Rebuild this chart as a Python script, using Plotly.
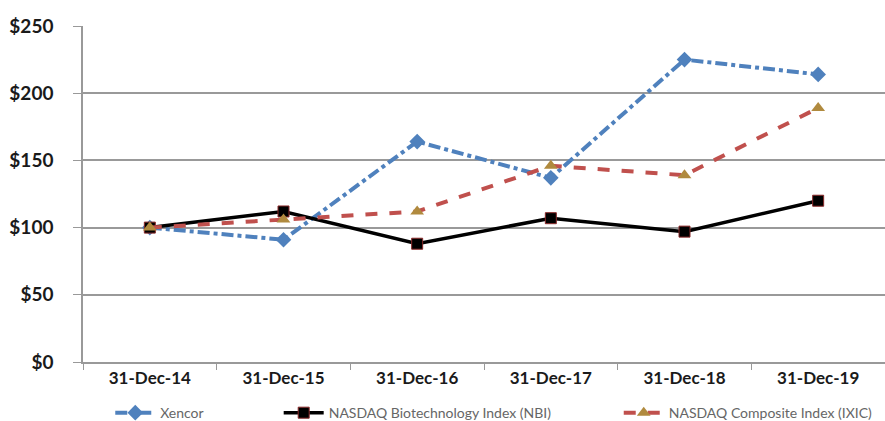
import plotly.graph_objects as go

dates = ["31-Dec-14", "31-Dec-15", "31-Dec-16", "31-Dec-17", "31-Dec-18", "31-Dec-19"]
xencor = [100, 91, 164, 137, 225, 214]
nbi = [100, 112, 88, 107, 97, 120]
ixic = [100, 106, 112, 146, 139, 189]
y_ticks = [0, 50, 100, 150, 200, 250]
y_labels = ["$0", "$50", "$100", "$150", "$200", "$250"]

FONT = "Lato, Carlito, Calibri, Arial"

fig = go.Figure()
fig.add_trace(go.Scatter(
    x=dates, y=xencor, name="Xencor", mode="lines+markers", legend="legend",
    showlegend=True,
    line=dict(color="#4F81BD", width=4, dash="dashdot"),
    marker=dict(symbol="diamond", size=12, color="#4F81BD"),
))
fig.add_trace(go.Scatter(
    x=dates, y=nbi, name="NASDAQ Biotechnology Index (NBI)", mode="lines+markers",
    legend="legend2", showlegend=True,
    line=dict(color="#000000", width=3.5),
    marker=dict(symbol="square", size=11, color="#000000",
                line=dict(color="#8B2A2A", width=1)),
))
fig.add_trace(go.Scatter(
    x=dates, y=ixic, name="NASDAQ Composite Index (IXIC)", mode="lines+markers",
    legend="legend3", showlegend=True,
    line=dict(color="#C0504D", width=4, dash="dash"),
    marker=dict(symbol="triangle-up", size=12, color="#B08A3E"),
))

legend_style = dict(
    orientation="h", yanchor="middle", y=-0.152, xanchor="left",
    font=dict(size=14, color="#666666", family=FONT),
    itemwidth=40, bgcolor="rgba(0,0,0,0)",
)

fig.update_layout(
    width=885, height=421,
    showlegend=True,
    margin=dict(l=83, r=0, t=26, b=59, autoexpand=False),
    paper_bgcolor="white", plot_bgcolor="white",
    font=dict(family=FONT, color="#222222"),
    legend=dict(legend_style, x=0.034),
    legend2=dict(legend_style, x=0.244),
    legend3=dict(legend_style, x=0.668),
    xaxis=dict(
        type="category", range=[-0.5, 5.5], tickson="boundaries",
        ticks="outside", ticklen=6, tickcolor="#999999",
        showline=True, linecolor="#999999", linewidth=1.5,
        showgrid=False,
        tickfont=dict(size=17, color="#1a1a1a", family=FONT, weight="bold"),
    ),
    yaxis=dict(
        range=[0, 250], tickvals=y_ticks, ticktext=y_labels,
        ticks="outside", ticklen=8, tickcolor="#999999",
        ticklabelstandoff=16,
        showline=True, linecolor="#999999", linewidth=1.5,
        showgrid=True, gridcolor="#999999", gridwidth=1.5,
        zeroline=False,
        tickfont=dict(size=19, color="#1a1a1a", family=FONT, weight="bold"),
    ),
)

fig.write_html("out.html")
